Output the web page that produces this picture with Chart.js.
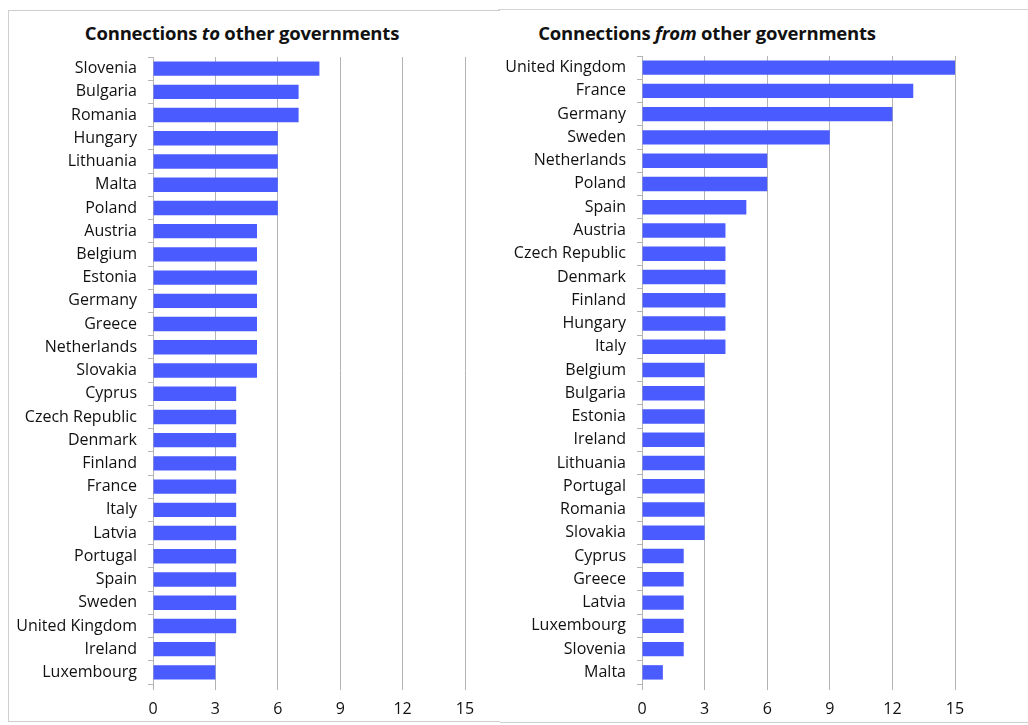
<!DOCTYPE html>
<html>
<head>
<meta charset="utf-8">
<script src="https://cdn.jsdelivr.net/npm/chart.js@4/dist/chart.umd.min.js"></script>
<style>
  html, body { margin: 0; padding: 0; background: #fff; }
  body { width: 1028px; height: 725px; position: relative; overflow: hidden; font-family: "Open Sans", Lato, sans-serif; }
  .panelL { position: absolute; left: 8px; top: 10px; width: 492px; height: 712px; border-left: 1px solid #cfcfcf; border-top: 1px solid #cfcfcf; border-bottom: 1px solid #cfcfcf; box-sizing: border-box; }
  .lineTopR { position: absolute; left: 498px; top: 9px; width: 530px; height: 1px; background: #d6d6d6; }
  .lineBotR { position: absolute; left: 500px; top: 722px; width: 528px; height: 1px; background: #cfcfcf; }
  .title { position: absolute; top: 20px; font-weight: bold; font-size: 18.5px; color: #111; white-space: nowrap; transform: translateX(-50%); letter-spacing: -0.2px; }
  .wrap { position: absolute; }
</style>
</head>
<body>
<div class="panelL"></div>
<div class="lineTopR"></div>
<div class="lineBotR"></div>
<div class="title" style="left:242px">Connections <i>to</i> other governments</div>
<div class="title" style="left:707px">Connections <i>from</i> other governments</div>
<div class="wrap" style="left:8px;top:10px;width:492px;height:712px"><canvas id="c1"></canvas></div>
<div class="wrap" style="left:500px;top:10px;width:528px;height:712px"><canvas id="c2"></canvas></div>
<script>
const toCountries = ["Slovenia","Bulgaria","Romania","Hungary","Lithuania","Malta","Poland","Austria","Belgium","Estonia","Germany","Greece","Netherlands","Slovakia","Cyprus","Czech Republic","Denmark","Finland","France","Italy","Latvia","Portugal","Spain","Sweden","United Kingdom","Ireland","Luxembourg"];
const toValues = [8,7,7,6,6,6,6,5,5,5,5,5,5,5,4,4,4,4,4,4,4,4,4,4,4,3,3];
const fromCountries = ["United Kingdom","France","Germany","Sweden","Netherlands","Poland","Spain","Austria","Czech Republic","Denmark","Finland","Hungary","Italy","Belgium","Bulgaria","Estonia","Ireland","Lithuania","Portugal","Romania","Slovakia","Cyprus","Greece","Latvia","Luxembourg","Slovenia","Malta"];
const fromValues = [15,13,12,9,6,6,5,4,4,4,4,4,4,3,3,3,3,3,3,3,3,2,2,2,2,2,1];
const xTicks = [0,3,6,9,12,15];

const BAR = "#4A5CFF";
const GRID = "#B4B4B4";
const FONT = { family: "'Open Sans', Lato, sans-serif", size: 16 };

function makeChart(id, labels, values, yWidth, padTop, padRight) {
  return new Chart(document.getElementById(id), {
    type: 'bar',
    data: { labels: labels, datasets: [{ data: values, backgroundColor: BAR, borderWidth: 0, barPercentage: 0.62, categoryPercentage: 1 }] },
    options: {
      indexAxis: 'y',
      responsive: true,
      maintainAspectRatio: false,
      animation: false,
      layout: { padding: { top: padTop, right: padRight, bottom: 0, left: 0 } },
      plugins: { legend: { display: false }, tooltip: { enabled: false }, title: { display: false } },
      scales: {
        x: {
          min: 0, max: 15,
          afterBuildTicks: (s) => { s.ticks = xTicks.map(v => ({ value: v })); },
          afterFit: (s) => { s.height = 38; },
          grid: { color: GRID, lineWidth: 1, tickLength: 6, drawTicks: true },
          border: { display: false },
          ticks: { color: "#111", font: FONT, padding: 10, maxRotation: 0 }
        },
        y: {
          afterFit: (s) => { s.width = yWidth; },
          grid: { drawOnChartArea: false, offset: true, color: GRID, tickLength: 5 },
          border: { display: true, color: GRID, width: 1 },
          ticks: { color: "#111", font: FONT, padding: 11, autoSkip: false }
        }
      }
    }
  });
}
makeChart('c1', toCountries, toValues, 145, 47, 35);
makeChart('c2', fromCountries, fromValues, 142, 46, 73);
</script>
</body>
</html>
